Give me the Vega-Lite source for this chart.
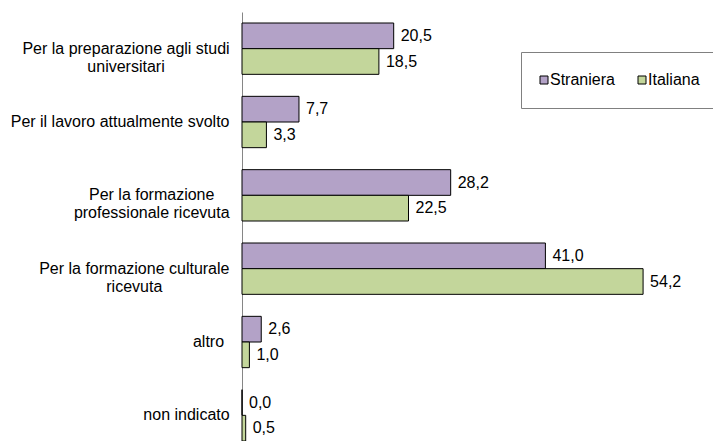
{
  "$schema": "https://vega.github.io/schema/vega-lite/v6.json",
  "autosize": {"type": "none"},
  "padding": {"left": 242, "top": 12, "right": 27, "bottom": 0},
  "width": 444,
  "height": 429,
  "background": "white",
  "config": {
    "view": {"stroke": null},
    "font": "Liberation Sans",
    "locale": {"number": {"decimal": ",", "thousands": ".", "grouping": [3], "currency": ["", " €"]}}
  },
  "data": {
    "values": [
      {"categoria": "Per la preparazione agli studi universitari", "serie": "Straniera", "valore": 20.5},
      {"categoria": "Per la preparazione agli studi universitari", "serie": "Italiana", "valore": 18.5},
      {"categoria": "Per il lavoro attualmente svolto", "serie": "Straniera", "valore": 7.7},
      {"categoria": "Per il lavoro attualmente svolto", "serie": "Italiana", "valore": 3.3},
      {"categoria": "Per la formazione professionale ricevuta", "serie": "Straniera", "valore": 28.2},
      {"categoria": "Per la formazione professionale ricevuta", "serie": "Italiana", "valore": 22.5},
      {"categoria": "Per la formazione culturale ricevuta", "serie": "Straniera", "valore": 41.0},
      {"categoria": "Per la formazione culturale ricevuta", "serie": "Italiana", "valore": 54.2},
      {"categoria": "altro", "serie": "Straniera", "valore": 2.6},
      {"categoria": "altro", "serie": "Italiana", "valore": 1.0},
      {"categoria": "non indicato", "serie": "Straniera", "valore": 0.0},
      {"categoria": "non indicato", "serie": "Italiana", "valore": 0.5}
    ]
  },
  "encoding": {
    "y": {
      "field": "categoria",
      "type": "nominal",
      "sort": null,
      "scale": {"paddingInner": 0.3, "paddingOuter": 0.075, "align": 1},
      "axis": {
        "title": null,
        "domain": true,
        "domainColor": "#868686",
        "domainWidth": 1,
        "ticks": false,
        "grid": false,
        "labelFont": "Liberation Sans",
        "labelFontSize": 16,
        "labelColor": "#000000",
        "labelAlign": "center",
        "labelPadding": {
          "condition": [
            {"test": "datum.value == 'Per la preparazione agli studi universitari'", "value": 116.5},
            {"test": "datum.value == 'Per il lavoro attualmente svolto'", "value": 122.4},
            {"test": "datum.value == 'Per la formazione professionale ricevuta'", "value": 90.8},
            {"test": "datum.value == 'Per la formazione culturale ricevuta'", "value": 108.2},
            {"test": "datum.value == 'altro'", "value": 34}
          ],
          "value": 56
        },
        "labelLimit": 0,
        "labelLineHeight": 18,
        "labelExpr": "datum.label == 'Per la preparazione agli studi universitari' ? ['Per la preparazione agli studi', 'universitari'] : datum.label == 'Per la formazione professionale ricevuta' ? ['Per la formazione', 'professionale ricevuta'] : datum.label == 'Per la formazione culturale ricevuta' ? ['Per la formazione culturale', 'ricevuta'] : datum.label"
      }
    },
    "yOffset": {
      "field": "serie",
      "type": "nominal",
      "sort": ["Straniera", "Italiana"],
      "scale": {"paddingInner": 0, "paddingOuter": 0}
    },
    "x": {
      "field": "valore",
      "type": "quantitative",
      "scale": {"domain": [0, 60], "nice": false},
      "axis": null
    }
  },
  "layer": [
    {
      "mark": {"type": "bar", "stroke": "#000000", "strokeWidth": 1},
      "encoding": {
        "color": {
          "field": "serie",
          "type": "nominal",
          "sort": ["Straniera", "Italiana"],
          "scale": {"domain": ["Straniera", "Italiana"], "range": ["#B3A2C7", "#C3D69B"]},
          "legend": {
            "title": null,
            "orient": "none",
            "legendX": 279,
            "legendY": 40,
            "direction": "horizontal",
            "symbolType": "square",
            "symbolSize": 64,
            "symbolStrokeColor": "#000000",
            "symbolStrokeWidth": 1,
            "symbolOpacity": 1,
            "symbolOffset": -5,
            "labelFont": "Liberation Sans",
            "labelFontSize": 16,
            "labelColor": "#000000",
            "labelOffset": -2,
            "columnPadding": 21,
            "padding": 20,
            "fillColor": "#FFFFFF",
            "strokeColor": "#808080"
          }
        }
      }
    },
    {
      "mark": {"type": "text", "align": "left", "baseline": "middle", "dx": 7, "font": "Liberation Sans", "fontSize": 16, "color": "#000000"},
      "encoding": {
        "text": {"field": "valore", "type": "quantitative", "format": ".1f"}
      }
    }
  ]
}
